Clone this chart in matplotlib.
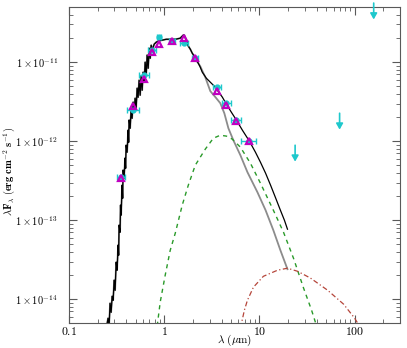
import numpy as np
import matplotlib
matplotlib.use("Agg")
import matplotlib.pyplot as plt
from matplotlib.ticker import FixedLocator, FuncFormatter, LogLocator, NullFormatter

plt.rcParams['mathtext.fontset'] = 'cm'
plt.rcParams['font.family'] = 'serif'

# total model (star + disk), jagged photosphere at short wavelengths
model_wave = [0.245, 0.257, 0.264, 0.270, 0.277, 0.284, 0.291, 0.298, 0.305, 0.313,
              0.320, 0.328, 0.332, 0.336, 0.344, 0.348, 0.353, 0.361, 0.366, 0.370,
              0.379, 0.388, 0.393, 0.398, 0.408, 0.418, 0.423, 0.428, 0.439, 0.449,
              0.460, 0.472, 0.483, 0.495, 0.507, 0.520, 0.532, 0.545, 0.559, 0.573,
              0.587, 0.601, 0.616, 0.631, 0.647, 0.662, 0.679, 0.695, 0.713, 0.730,
              0.748, 0.785, 0.824, 0.865, 0.953, 1.05, 1.16, 1.31, 1.47, 1.585,
              1.62, 1.71, 1.79, 1.88, 1.97, 2.07, 2.17, 2.28, 2.39, 2.51,
              2.64, 2.77, 3.05, 3.36, 3.61, 4.08, 4.50, 5.07, 5.73, 6.62,
              7.85, 9.08, 10.25, 11.6, 13.1, 14.7, 16.6, 18.3, 19.7]
model_flux = [4.06e-15, 5.74e-15, 4.69e-15, 8.89e-15, 6.84e-15, 1.09e-14, 9.70e-15, 1.74e-14, 1.30e-14, 2.94e-14,
              2.33e-14, 4.83e-14, 3.61e-14, 8.65e-14, 7.05e-14, 1.55e-13, 1.16e-13, 2.77e-13, 1.90e-13, 4.30e-13,
              3.40e-13, 6.10e-13, 4.55e-13, 8.89e-13, 7.26e-13, 1.38e-12, 9.70e-13, 1.85e-12, 1.46e-12, 2.47e-12,
              1.95e-12, 3.12e-12, 2.33e-12, 3.50e-12, 2.60e-12, 4.69e-12, 3.60e-12, 5.91e-12, 3.82e-12, 6.65e-12,
              4.43e-12, 7.47e-12, 5.58e-12, 1.00e-11, 6.84e-12, 1.23e-11, 8.40e-12, 1.50e-11, 1.12e-11, 1.64e-11,
              1.42e-11, 1.69e-11, 1.79e-11, 1.85e-11, 1.90e-11, 1.95e-11, 1.95e-11, 1.95e-11, 2.01e-11, 2.20e-11,
              2.20e-11, 1.90e-11, 1.60e-11, 1.46e-11, 1.30e-11, 1.19e-11, 1.06e-11, 9.7e-12, 8.65e-12, 7.47e-12,
              6.84e-12, 6.27e-12, 5.58e-12, 4.97e-12, 4.43e-12, 3.61e-12, 2.94e-12, 2.33e-12, 1.85e-12, 1.38e-12,
              1.00e-12, 7.26e-13, 5.42e-13, 3.94e-13, 2.77e-13, 1.95e-13, 1.34e-13, 1.00e-13, 7.7e-14]

# stellar photosphere alone, where it leaves the total model
star_wave = [2.17, 2.39, 2.70, 3.05, 3.45, 3.88, 4.28, 4.72, 5.32, 6.31, 7.48, 9.53, 11.6, 14.0, 16.6, 19.7]
star_flux = [1.06e-11, 8.90e-12, 6.45e-12, 4.30e-12, 3.61e-12, 3.03e-12, 2.26e-12, 1.46e-12, 1.03e-12,
             6.65e-13, 4.06e-13, 2.26e-13, 1.34e-13, 7.47e-14, 4.17e-14, 2.40e-14]

# warm dust blackbody
warm_wave = [0.844, 0.908, 1.024, 1.157, 1.306, 1.546, 1.79, 2.12, 2.70, 3.28, 3.88, 4.50, 5.20,
             6.31, 8.04, 10.25, 14.0, 17.9, 22.8, 29.1, 35.3, 39.8]
warm_flux = [4.6e-15, 9.2e-15, 2.01e-14, 4.17e-14, 6.84e-14, 1.55e-13, 2.77e-13, 4.97e-13, 7.93e-13, 1.09e-12,
             1.19e-12, 1.16e-12, 1.06e-12, 8.4e-13, 5.27e-13, 2.94e-13, 1.34e-13, 7.05e-14, 3.30e-14,
             1.38e-14, 7.26e-15, 4.6e-15]

# cold dust blackbody
cold_wave = [6.31, 6.95, 7.48, 8.65, 11.0, 15.5, 19.7, 25.1, 34.4, 52.0, 76.6, 100.0, 116.0]
cold_flux = [4.3e-15, 7.26e-15, 9.7e-15, 1.42e-14, 1.95e-14, 2.33e-14, 2.47e-14, 2.26e-14, 1.85e-14,
             1.30e-14, 8.65e-15, 5.75e-15, 4.3e-15]

# observed photometry
obs_wave = [0.353, 0.472, 0.616, 0.748, 0.886, 1.21, 1.62, 2.12, 3.61, 4.50, 5.73, 7.85]
obs_wave_err = [0.03, 0.07, 0.07, 0.07, 0.05, 0.10, 0.15, 0.15, 0.35, 0.50, 0.70, 1.40]
obs_flux = [3.50e-13, 2.47e-12, 6.84e-12, 1.42e-11, 2.07e-11, 1.85e-11, 1.74e-11, 1.12e-11,
            4.83e-12, 3.03e-12, 1.85e-12, 1.00e-12]

# synthetic photometry from the model
syn_flux = [3.40e-13, 2.77e-12, 6.10e-12, 1.34e-11, 1.69e-11, 1.85e-11, 2.01e-11, 1.12e-11,
            4.30e-12, 2.86e-12, 1.79e-12, 1.00e-12]

# upper limits
lim_wave = [23.7, 69.5, 158.5]
lim_flux = [8.89e-13, 2.26e-12, 5.6e-11]

fig = plt.figure(figsize=(4.07, 3.48), dpi=100)
ax = fig.add_axes([0.1695, 0.0718, 0.8135, 0.9082])

# photosphere drawn under the total model
gray_wave = [w for w in model_wave if w < star_wave[0]] + star_wave
gray_flux = [f for w, f in zip(model_wave, model_flux) if w < star_wave[0]] + star_flux
ax.plot(gray_wave, gray_flux, color='0.55', lw=1.3, zorder=2)
ax.plot(model_wave, model_flux, color='black', lw=0.9, zorder=3)
ax.plot(warm_wave, warm_flux, color='#2a9a2a', lw=1.0, ls=(0, (3, 3)), zorder=2)
ax.plot(cold_wave, cold_flux, color='#b5453a', lw=0.9, ls=(0, (4, 2, 1, 2)), zorder=2)

cyan = '#1ec8cc'
ax.errorbar(obs_wave, obs_flux, xerr=obs_wave_err, fmt='o', color=cyan, ms=3.5,
            elinewidth=1.0, capsize=2, capthick=1.0, zorder=4)
ax.plot(obs_wave, syn_flux, ls='none', marker='^', ms=5, mfc='none', mec='#c000c0', mew=1.6, zorder=5)

for w, f in zip(lim_wave, lim_flux):
    ax.annotate('', xy=(w, f * 0.62), xytext=(w, f), annotation_clip=False,
                arrowprops=dict(arrowstyle='-|>,head_length=0.35,head_width=0.2', color=cyan, lw=1.2,
                                shrinkA=0, shrinkB=0), zorder=4)

ax.set_xscale('log')
ax.set_yscale('log')
ax.set_xlim(0.1, 300)
ax.set_ylim(5e-15, 5e-11)

ax.xaxis.set_major_locator(FixedLocator([0.1, 1, 10, 100]))
ax.xaxis.set_major_formatter(FuncFormatter(lambda v, p: r'$%g$' % v))
ax.xaxis.set_minor_locator(LogLocator(base=10, subs=np.arange(2, 10)))
ax.xaxis.set_minor_formatter(NullFormatter())
ax.yaxis.set_major_locator(FixedLocator([1e-14, 1e-13, 1e-12, 1e-11]))
ax.yaxis.set_major_formatter(FuncFormatter(lambda v, p: r'$1\times10^{%d}$' % round(np.log10(v))))
ax.yaxis.set_minor_locator(LogLocator(base=10, subs=np.arange(2, 10)))
ax.yaxis.set_minor_formatter(NullFormatter())

ax.tick_params(which='both', direction='in', top=True, right=True, colors='0.35', labelcolor='black')
ax.tick_params(which='major', length=6, width=0.8)
ax.tick_params(which='minor', length=3, width=0.6)
ax.tick_params(axis='x', labelsize=8.5, pad=1.5)
ax.tick_params(axis='y', labelsize=7.5, pad=8)
for s in ax.spines.values():
    s.set_color('0.35')

ax.set_xlabel(r'$\lambda\ (\mu\mathrm{m})$', fontsize=8)
ax.xaxis.set_label_coords(0.5, -0.03)
ax.set_ylabel(r'$\mathbf{\lambda F_\lambda\ (erg\ cm^{-2}\ s^{-1})}$', fontsize=7.5)
ax.yaxis.set_label_coords(-0.158, 0.48)

fig.savefig('out.png', dpi=100)
